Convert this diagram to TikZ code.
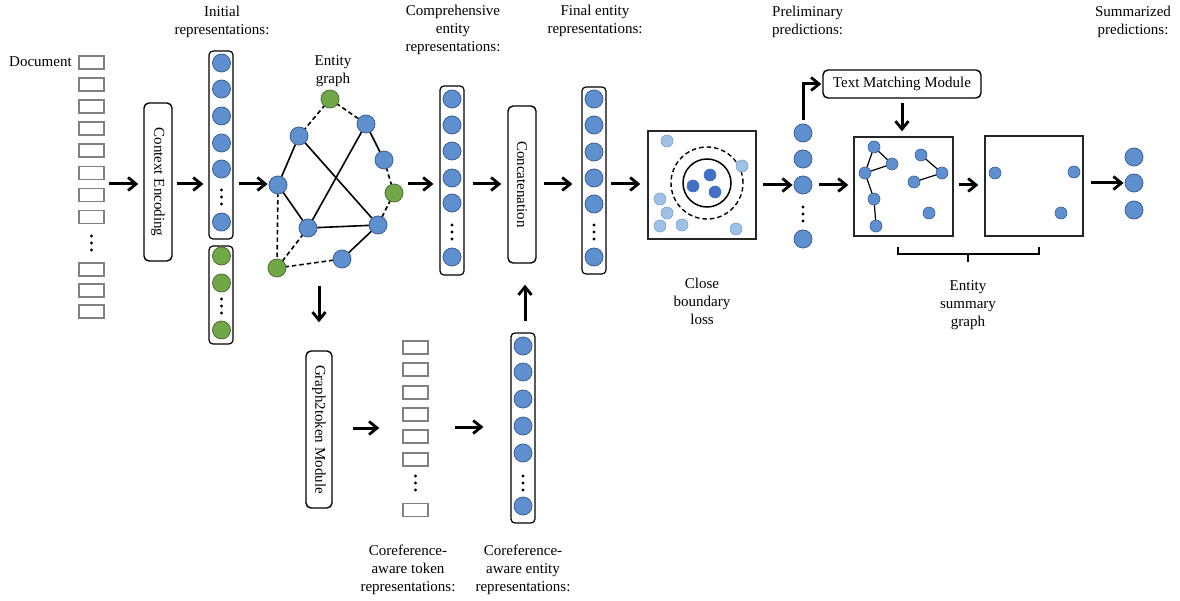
\documentclass[tikz,border=0pt]{standalone}
\usepackage{fontspec}
\setmainfont{Liberation Serif}
\usetikzlibrary{arrows.meta,calc}
\definecolor{cblue}{RGB}{94,143,206}
\definecolor{cblueD}{RGB}{58,96,150}
\definecolor{cgreen}{RGB}{112,168,72}
\definecolor{cgreenD}{RGB}{78,112,56}
\definecolor{clight}{RGB}{158,194,230}
\definecolor{clightD}{RGB}{118,158,208}
\definecolor{cdark}{RGB}{66,112,196}
\definecolor{cgray}{RGB}{128,128,128}
\newcommand{\vdts}[2]{\foreach \dd in {-7,0,7}{\fill (#1,#2+\dd) circle (1.7pt);}}
\begin{document}
\begin{tikzpicture}[x=1pt,y=-1pt,font=\fontsize{15}{18}\selectfont,
  bc/.style={circle,minimum size=18pt,inner sep=0pt,fill=cblue,draw=cblueD,line width=0.8pt},
  gc/.style={bc,fill=cgreen,draw=cgreenD},
  sc/.style={circle,minimum size=12pt,inner sep=0pt,fill=cblue,draw=cblueD,line width=0.6pt},
  lc/.style={sc,fill=clight,draw=clightD},
  dc/.style={sc,fill=cdark,draw=cdark},
  tok/.style={rectangle,minimum width=25pt,minimum height=13pt,inner sep=0pt,draw=cgray,line width=1.4pt},
  colbox/.style={rectangle,rounded corners=4pt,draw,line width=1.2pt,minimum width=24pt,inner sep=0pt},
  modbox/.style={rectangle,rounded corners=5pt,draw,line width=1.4pt,inner sep=0pt},
  framebox/.style={rectangle,draw=black!85,line width=1.3pt,inner sep=0pt},
  arr/.style={-{Straight Barb[length=8pt,width=13pt,line width=2.8pt]},line width=3pt},
  ge/.style={line width=1.6pt},
  gd/.style={line width=1.6pt,dash pattern=on 4.5pt off 3pt},
  lbl/.style={align=center,inner sep=0pt}]
\useasboundingbox (0,0) rectangle (1180,601);
\coordinate (mid) at (0,184);

% ---------- Document ----------
\node[anchor=west,inner sep=0pt] (doclbl) at (9,62) {Document};
\foreach \i/\y in {1/62.5,2/84.5,3/106.5,4/128.5,5/150.5,6/173,7/195,8/217,9/269.5,10/290.5,11/311.5}
  \node[tok] (d\i) at (91.5,\y) {};
\vdts{91.5}{243}
\coordinate (docout) at (109,184);

% ---------- Context Encoding ----------
\node[modbox,minimum width=28pt,minimum height=158pt] (ctx) at (158,182) {};
\node[rotate=-90,inner sep=0pt] (ctxt) at (ctx) {Context Encoding};

% ---------- Initial representations ----------
\node[lbl] (initlbl) at (222,22) {Initial\\representations:};
\node[colbox,minimum height=188pt] (init) at (221,145) {};
\foreach \i/\y in {1/63,2/89,3/116,4/143,5/169,6/222}
  \node[bc] (i\i) at (221.5,\y) {};
\vdts{221.5}{197}
\node[colbox,minimum height=98pt] (initg) at (221,295) {};
\foreach \i/\y in {1/256,2/283,3/330}
  \node[gc] (ig\i) at (221.5,\y) {};
\vdts{221.5}{306}

% ---------- Entity graph ----------
\node[lbl] (eglbl) at (333,71) {Entity\\graph};
\coordinate (gA) at (330,99);
\coordinate (gB) at (299,136);
\coordinate (gC) at (366,124);
\coordinate (gD) at (384,160);
\coordinate (gE) at (394,193);
\coordinate (gL) at (278,185);
\coordinate (gM) at (308,228);
\coordinate (gR) at (378,225);
\coordinate (gS) at (342,259);
\coordinate (gG) at (277,268);
\draw[gd] (gA) -- (gB);
\draw[gd] (gA) -- (gC);
\draw[ge] (gC) -- (gD);
\draw[gd] (gD) -- (gE);
\draw[gd] (gE) -- (gR);
\draw[ge] (gB) -- (gL);
\draw[ge] (gB) -- (gR);
\draw[ge] (gC) -- (gM);
\draw[ge] (gL) -- (gM);
\draw[ge] (gM) -- (gR);
\draw[ge] (gR) -- (gS);
\draw[gd] (gL) -- (gG);
\draw[gd] (gM) -- (gG);
\draw[gd] (gG) -- (gS);
\node[gc] (nA) at (gA) {};
\node[bc] (nB) at (gB) {};
\node[bc] (nC) at (gC) {};
\node[bc] (nD) at (gD) {};
\node[gc] (nE) at (gE) {};
\node[bc] (nL) at (gL) {};
\node[bc] (nM) at (gM) {};
\node[bc] (nR) at (gR) {};
\node[bc] (nS) at (gS) {};
\node[gc] (nG) at (gG) {};

% ---------- Comprehensive ----------
\node[lbl] (complbl) at (453,30) {Comprehensive\\entity\\representations:};
\node[colbox,minimum height=189pt] (comp) at (452,180.5) {};
\foreach \i/\y in {1/99,2/125,3/151,4/178,5/203,6/257}
  \node[bc] (c\i) at (452,\y) {};
\vdts{452}{232}

% ---------- Concatenation ----------
\node[modbox,minimum width=28pt,minimum height=157pt] (cat) at (522,184.5) {};
\node[rotate=-90,inner sep=0pt] (catt) at (cat) {Concatenation};

% ---------- Final ----------
\node[lbl] (finlbl) at (595,21) {Final entity\\representations:};
\node[colbox,minimum height=187pt] (fin) at (594,180.5) {};
\foreach \i/\y in {1/99,2/125,3/152,4/178,5/204,6/257}
  \node[bc] (f\i) at (594,\y) {};
\vdts{594}{232}

% ---------- Close boundary ----------
\node[framebox,minimum width=108pt,minimum height=108pt] (cb) at (702,185) {};
\node[circle,draw,dash pattern=on 4.5pt off 3pt,line width=1.4pt,minimum size=72pt,inner sep=0pt] (cbd) at (707,183) {};
\node[circle,draw,line width=1.5pt,minimum size=48pt,inner sep=0pt] (cbs) at (707,183) {};
\node[dc] (k1) at (710,175) {};
\node[dc] (k2) at (693,186) {};
\node[dc] (k3) at (715,192) {};
\foreach \i/\x/\y in {1/667/141,2/742/166,3/660/199,4/667/213,5/660/226,6/682/225,7/736/229}
  \node[lc] (l\i) at (\x,\y) {};
\node[lbl] (cblbl) at (702,301) {Close\\boundary\\loss};

% ---------- Preliminary predictions ----------
\node[lbl,align=left,anchor=west] (prelbl) at (772,22) {Preliminary\\predictions:};
\foreach \i/\y in {1/133,2/159,3/185,4/239}
  \node[bc] (p\i) at (803,\y) {};
\vdts{803}{214}

% ---------- Text Matching Module ----------
\node[modbox,minimum width=158pt,minimum height=28pt] (tmm) at (902,84) {Text Matching Module};

% ---------- Entity summary graph ----------
\node[framebox,minimum width=99pt,minimum height=99pt] (es1) at (903.5,186.5) {};
\coordinate (e1) at (874,147);
\coordinate (e2) at (892,164);
\coordinate (e3) at (865,173);
\coordinate (e4) at (874,199);
\coordinate (e5) at (876,226);
\coordinate (e6) at (921,155);
\coordinate (e7) at (942,173);
\coordinate (e8) at (914,182);
\coordinate (e9) at (929,213);
\draw[line width=1.2pt] (e1) -- (e2) (e1) -- (e3) (e3) -- (e2) (e3) -- (e4) (e4) -- (e5) (e6) -- (e7) (e7) -- (e8);
\foreach \i in {1,...,9} \node[sc] (ne\i) at (e\i) {};

\node[framebox,minimum width=98pt,minimum height=100pt] (es2) at (1034,186) {};
\node[sc] (h1) at (995,173) {};
\node[sc] (h2) at (1074,172) {};
\node[sc] (h3) at (1061,213) {};

\coordinate (brL) at (898,247);
\coordinate (brR) at (1039,247);
\coordinate (brM) at (968,262);
\draw[line width=1.2pt] (brL) -- ++(0,7) -- ($(brR)+(0,7)$) -- (brR);
\draw[line width=1.2pt] (brM) -- ++(0,-8);
\node[lbl] (eslbl) at (968,305) {Entity\\summary\\graph};

% ---------- Summarized ----------
\node[lbl] (sumlbl) at (1133,21.5) {Summarized\\predictions:};
\foreach \i/\y in {1/157,2/183,3/210}
  \node[bc] (s\i) at (1134,\y) {};

% ---------- Lower branch ----------
\node[modbox,minimum width=26pt,minimum height=157pt] (g2t) at (319,429.5) {};
\node[rotate=-90,inner sep=0pt] (g2tt) at (g2t) {Graph2token Module};
\foreach \i/\y in {1/347.5,2/369.5,3/392.5,4/414.5,5/436.5,6/459.5,7/510}
  \node[tok] (t\i) at (415.5,\y) {};
\vdts{415.5}{483}
\node[colbox,minimum height=190pt] (cor) at (523,428) {};
\foreach \i/\y in {1/346,2/372,3/399,4/426,5/453,6/506}
  \node[bc] (r\i) at (523,\y) {};
\vdts{523}{483}
\node[lbl] (toklbl) at (408,570) {Coreference-\\aware token\\representations:};
\node[lbl] (corlbl) at (523,570) {Coreference-\\aware entity\\representations:};

% ---------- Arrows ----------
\draw[arr] (docout) -- ([xshift=-5pt]ctx.west |- mid);
\draw[arr] ([xshift=4pt]ctx.east |- mid) -- ([xshift=-5pt]init.west |- mid);
\draw[arr] ([xshift=5pt]init.east |- mid) -- ([xshift=-1pt]nL.west |- mid);
\draw[arr] ([xshift=5pt]nE.east |- mid) -- ([xshift=-6pt]comp.west |- mid);
\draw[arr] ([xshift=8pt]comp.east |- mid) -- ([xshift=-6pt]cat.west |- mid);
\draw[arr] ([xshift=7pt]cat.east |- mid) -- ([xshift=-9pt]fin.west |- mid);
\draw[arr] ([xshift=4pt]fin.east |- mid) -- ([xshift=-7pt]cb.west |- mid);
\draw[arr] ([xshift=6pt]cb.east |- p3) -- ([xshift=-1pt]p3.west);
\draw[arr] ([xshift=7pt]p3.east) -- ([xshift=-5pt]es1.west |- p3);
\draw[arr] ([xshift=5pt]es1.east |- p3) -- ([xshift=-6pt]es2.west |- p3);
\draw[arr] ([xshift=7pt]es2.east |- s2) -- ([xshift=-1pt]s2.west);
\draw[arr] ([yshift=4pt]p1.north) |- ([xshift=-1pt]tmm.west);
\draw[arr] ([yshift=-4pt]tmm.south) -- ([yshift=5pt]es1.north -| tmm);
\coordinate (gdown) at (319,286);
\draw[arr] (gdown) -- ([yshift=28pt]g2t.north);
\draw[arr] ([xshift=20pt]g2t.east |- 0,428) -- ([xshift=-23pt]t5.west |- 0,428);
\draw[arr] ([xshift=26pt]t5.east |- 0,427) -- ([xshift=-27pt]cor.west |- 0,427);
\draw[arr] ([yshift=11pt]cor.north -| 525,0) -- ([yshift=-21pt]cat.south -| 525,0);
\end{tikzpicture}
\end{document}
